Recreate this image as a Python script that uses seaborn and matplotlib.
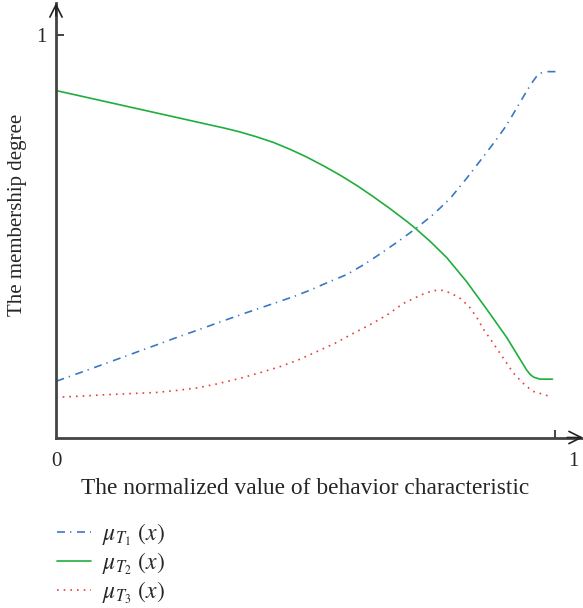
import pandas as pd
import matplotlib
matplotlib.use("Agg")
import matplotlib.pyplot as plt
import seaborn as sns

sns.set_theme(style="white")
plt.rcParams["font.family"] = ["Liberation Serif", "DejaVu Serif"]
plt.rcParams["mathtext.fontset"] = "stix"

# mu_T1: rising membership
x_t1 = [0.001, 0.055, 0.095, 0.135, 0.168, 0.208, 0.245, 0.282, 0.322, 0.379,
        0.436, 0.476, 0.509, 0.546, 0.583, 0.619, 0.653, 0.689, 0.723, 0.756,
        0.790, 0.823, 0.856, 0.883, 0.903, 0.923, 0.943, 0.953, 0.963, 0.973,
        0.983, 1.005]
mu_t1 = [0.140, 0.164, 0.182, 0.200, 0.215, 0.233, 0.250, 0.266, 0.284, 0.309,
         0.333, 0.350, 0.366, 0.386, 0.405, 0.431, 0.459, 0.490, 0.521, 0.554,
         0.594, 0.644, 0.697, 0.741, 0.776, 0.818, 0.860, 0.880, 0.897, 0.906,
         0.909, 0.909]

# mu_T2: falling membership
x_t2 = [0.0, 0.188, 0.300, 0.340, 0.369, 0.402, 0.436, 0.469, 0.502, 0.536,
        0.569, 0.603, 0.635, 0.669, 0.703, 0.719, 0.750, 0.783, 0.823, 0.863,
        0.903, 0.943, 0.950, 0.957, 0.970, 0.995]
mu_t2 = [0.862, 0.810, 0.779, 0.768, 0.759, 0.747, 0.733, 0.716, 0.697, 0.675,
         0.652, 0.626, 0.599, 0.569, 0.537, 0.521, 0.487, 0.447, 0.387, 0.319,
         0.249, 0.168, 0.157, 0.150, 0.145, 0.145]

# mu_T3: bell-shaped membership
x_t3 = [0.0, 0.055, 0.095, 0.148, 0.202, 0.242, 0.282, 0.322, 0.369, 0.409,
        0.449, 0.486, 0.522, 0.559, 0.596, 0.629, 0.663, 0.696, 0.733, 0.756,
        0.772, 0.786, 0.808, 0.828, 0.843, 0.856, 0.872, 0.886, 0.902, 0.916,
        0.935, 0.955, 0.980, 0.993]
mu_t3 = [0.100, 0.103, 0.106, 0.109, 0.112, 0.117, 0.123, 0.133, 0.147, 0.161,
         0.176, 0.193, 0.213, 0.234, 0.259, 0.280, 0.304, 0.333, 0.355, 0.365,
         0.366, 0.361, 0.348, 0.325, 0.299, 0.270, 0.242, 0.216, 0.187, 0.161,
         0.136, 0.115, 0.106, 0.100]

labels = [r"$\mu_{T_1}\ (x)$", r"$\mu_{T_2}\ (x)$", r"$\mu_{T_3}\ (x)$"]
colors = ["#3a78c4", "#1fae3c", "#ee3b3b"]
styles = [(0, (4.8, 3, 0.8, 3.4)), "-", (0, (1, 3))]

W, H = 583, 608
fig = plt.figure(figsize=(W / 100, H / 100), dpi=100)
ax = fig.add_axes([56 / W, (H - 437.5) / H, 527 / W, 434.5 / H])
ax.set_facecolor("none")

for xs, ys, lab, col, ls in zip([x_t1, x_t2, x_t3], [mu_t1, mu_t2, mu_t3],
                                labels, colors, styles):
    df = pd.DataFrame({"x": xs, "y": ys})
    line = sns.lineplot(data=df, x="x", y="y", ax=ax, color=col,
                        linewidth=1.2, label=lab, legend=False).lines[-1]
    line.set_linestyle(ls)
    line.set_solid_joinstyle("round")

ax.set_xlim(0, 527 / 499)
ax.set_ylim(0, 434.5 / 402.5)
ax.set_xlabel("")
ax.set_ylabel("")

for s in ["top", "right"]:
    ax.spines[s].set_visible(False)
for s in ["left", "bottom"]:
    ax.spines[s].set_color("#444444")
    ax.spines[s].set_linewidth(2)

# arrow heads at the ends of both axes
ax.annotate("", xy=(1.0, 0), xytext=(0.97, 0), xycoords="axes fraction",
            arrowprops=dict(arrowstyle="->", color="#222222", lw=1.2,
                            mutation_scale=22, shrinkA=0, shrinkB=0))
ax.annotate("", xy=(0, 1.0), xytext=(0, 0.97), xycoords="axes fraction",
            arrowprops=dict(arrowstyle="->", color="#222222", lw=1.2,
                            mutation_scale=22, shrinkA=0, shrinkB=0))

ax.set_xticks([1.0])
ax.set_xticklabels([""])
ax.set_yticks([1.0])
ax.set_yticklabels(["1"], fontsize=15)
ax.tick_params(axis="both", direction="in", length=6, width=1.2,
               color="#222222", pad=7, bottom=True, left=True)
ax.text(0, -0.035, "0", ha="center", va="top", fontsize=15)
ax.text(1.036, -0.035, "1", ha="center", va="top", fontsize=15)

fig.text(305 / W, 1 - 488 / H, "The normalized value of behavior characteristic",
         ha="center", va="center", fontsize=16.8)
fig.text(18 / W, 1 - 215 / H, "The membership degree", rotation=90,
         ha="center", va="center", fontsize=15)

handles, labs = ax.get_legend_handles_labels()
fig.legend(handles, labs, loc="upper left", bbox_to_anchor=(57 / W, 1 - 521 / H),
           frameon=False, fontsize=17, handlelength=1.45, handletextpad=0.45,
           labelspacing=0.1, borderaxespad=0, borderpad=0)

fig.savefig("out.png", dpi=100)
